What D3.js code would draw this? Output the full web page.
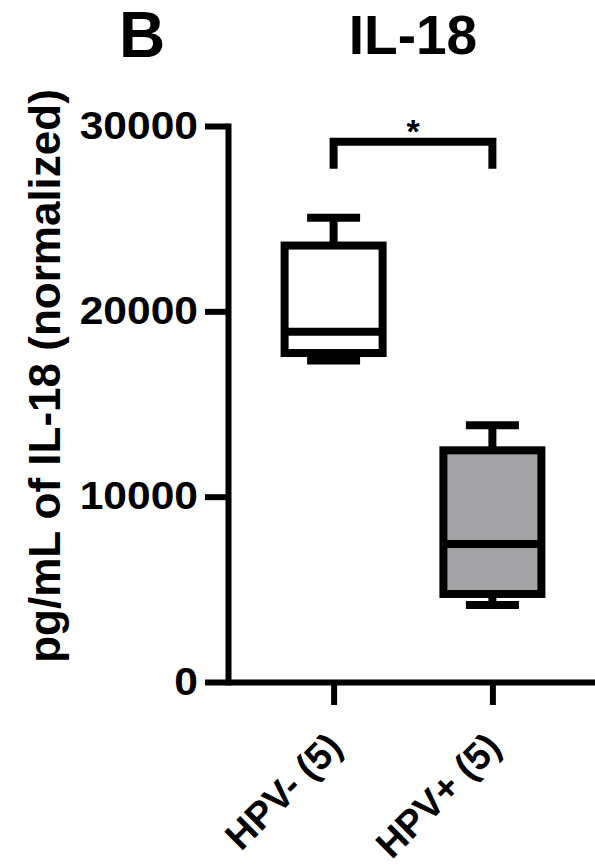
<!DOCTYPE html>
<html>
<head>
<meta charset="utf-8">
<script src="https://cdn.jsdelivr.net/npm/d3@7"></script>
<style>
  body { margin: 0; background: #fff; }
  svg { display: block; font-family: "Liberation Sans", Arial, sans-serif; font-weight: bold; }
</style>
</head>
<body>
<svg id="chart" width="595" height="867"></svg>
<script>
// data
const groups = ["HPV- (5)", "HPV+ (5)"];
const mins = [17350, 4150];
const q1s = [17750, 4750];
const medians = [18900, 7450];
const q3s = [23550, 12500];
const maxs = [25050, 13850];
const fills = ["#ffffff", "#a3a3a6"];
const yTicks = [0, 10000, 20000, 30000];
const sigPair = ["HPV- (5)", "HPV+ (5)"];
const sigLevel = 29150;
const sigDrop = 27700;

const svg = d3.select("#chart");

const y = d3.scaleLinear().domain([0, 30000]).range([682, 126]);
const x = d3.scalePoint().domain(groups).range([228, 598]).padding(0.665);

const boxW = 98;
const capW = 53;

// titles
svg.append("text")
  .attr("x", 142).attr("y", 57)
  .attr("text-anchor", "middle")
  .style("font-size", "64px")
  .text("B");

svg.append("text")
  .attr("x", 413).attr("y", 54)
  .attr("text-anchor", "middle")
  .style("font-size", "55px")
  .text("IL-18");

// y axis
const gy = svg.append("g")
  .attr("transform", "translate(228,0)")
  .call(d3.axisLeft(y).tickValues(yTicks).tickSize(23).tickSizeOuter(0).tickPadding(7).tickFormat(d3.format("d")));
gy.select(".domain").attr("stroke-width", 6).attr("stroke-linecap", "square");
gy.selectAll(".tick line").attr("stroke-width", 6);
// the original digits are a little wider than Arial, stretch them slightly
gy.selectAll(".tick text")
  .attr("x", 0)
  .attr("transform", "translate(-30,0) scale(1.12,1)")
  .style("font-size", "38px")
  .style("font-family", "inherit")
  .style("font-weight", "bold")
  .attr("fill", "#000");

// x axis
const gx = svg.append("g")
  .attr("transform", "translate(0,682)")
  .call(d3.axisBottom(x).tickSize(23).tickSizeOuter(0));
gx.select(".domain").attr("stroke-width", 6);
gx.selectAll(".tick line").attr("stroke-width", 6);
gx.selectAll(".tick text")
  .attr("x", 0).attr("y", 0).attr("dy", null)
  .attr("transform", "translate(10,67) rotate(-45)")
  .style("text-anchor", "end")
  .style("font-size", "38px")
  .style("font-family", "inherit")
  .style("font-weight", "bold")
  .attr("fill", "#000");

svg.selectAll(".domain, .tick line").attr("stroke", "#000");

// y label
svg.append("text")
  .attr("transform", "translate(60,376) rotate(-90)")
  .attr("text-anchor", "middle")
  .style("font-size", "44px")
  .text("pg/mL of IL-18 (normalized)");

// boxes
const boxes = svg.append("g")
  .selectAll("g")
  .data(groups)
  .join("g")
  .attr("fill", "none")
  .attr("stroke", "#000")
  .attr("stroke-width", 8);

boxes.append("line")
  .attr("x1", d => x(d)).attr("x2", d => x(d))
  .attr("y1", (d, i) => y(maxs[i])).attr("y2", (d, i) => y(q3s[i]));
boxes.append("line")
  .attr("x1", d => x(d)).attr("x2", d => x(d))
  .attr("y1", (d, i) => y(mins[i])).attr("y2", (d, i) => y(q1s[i]));
boxes.append("line")
  .attr("x1", d => x(d) - capW / 2).attr("x2", d => x(d) + capW / 2)
  .attr("y1", (d, i) => y(maxs[i])).attr("y2", (d, i) => y(maxs[i]));
boxes.append("line")
  .attr("x1", d => x(d) - capW / 2).attr("x2", d => x(d) + capW / 2)
  .attr("y1", (d, i) => y(mins[i])).attr("y2", (d, i) => y(mins[i]));
boxes.append("rect")
  .attr("x", d => x(d) - boxW / 2)
  .attr("width", boxW)
  .attr("y", (d, i) => y(q3s[i]))
  .attr("height", (d, i) => y(q1s[i]) - y(q3s[i]))
  .attr("fill", (d, i) => fills[i]);
boxes.append("line")
  .attr("x1", d => x(d) - boxW / 2).attr("x2", d => x(d) + boxW / 2)
  .attr("y1", (d, i) => y(medians[i])).attr("y2", (d, i) => y(medians[i]));

// significance bracket
const xa = x(sigPair[0]), xb = x(sigPair[1]);
svg.append("path")
  .attr("d", `M${xa},${y(sigDrop)}V${y(sigLevel)}H${xb}V${y(sigDrop)}`)
  .attr("fill", "none")
  .attr("stroke", "#000")
  .attr("stroke-width", 8);
svg.append("text")
  .attr("x", (xa + xb) / 2).attr("y", y(sigLevel) + 1.5)
  .attr("text-anchor", "middle")
  .style("font-size", "34px")
  .text("*");
</script>
</body>
</html>
